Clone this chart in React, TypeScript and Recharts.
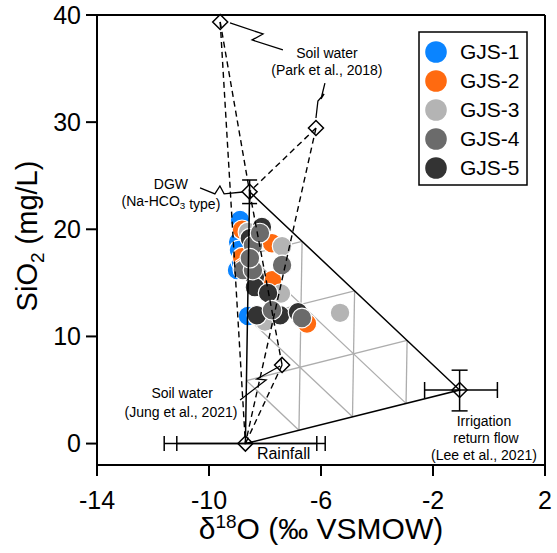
import React from 'react';
import { ComposedChart, Scatter, XAxis, YAxis, ErrorBar } from 'recharts';

const FONT = '"Liberation Sans", Arial, Helvetica, sans-serif';

// ---- axes ----
const xTicks = [-14, -10, -6, -2, 2];
const yTicks = [0, 10, 20, 30, 40];
const xDomain: [number, number] = [-14, 2];
const yDomain: [number, number] = [-2, 40];

// ---- sample series ----
const seriesNames = ['GJS-1', 'GJS-2', 'GJS-3', 'GJS-4', 'GJS-5'];
const seriesColors = ['#0A84FF', '#FF6A10', '#B4B4B4', '#6B6B6B', '#333333'];

const gjs1 = [
  { x: -8.89, y: 20.86 }, { x: -8.96, y: 18.82 }, { x: -8.93, y: 18.07 },
  { x: -9.0, y: 16.2 }, { x: -8.86, y: 16.95 }, { x: -8.61, y: 11.9 },
];
const gjs2 = [
  { x: -8.82, y: 19.95 }, { x: -7.75, y: 18.7 }, { x: -8.82, y: 17.4 },
  { x: -7.75, y: 15.25 }, { x: -6.5, y: 11.2 }, { x: -8.79, y: 16.4 },
];
const gjs3 = [
  { x: -5.32, y: 12.2 }, { x: -7.39, y: 18.42 }, { x: -8.61, y: 19.75 },
  { x: -7.43, y: 14.0 }, { x: -8.0, y: 11.4 },
];
const gjs4 = [
  { x: -8.43, y: 18.5 }, { x: -7.39, y: 16.67 }, { x: -8.79, y: 16.2 },
  { x: -8.43, y: 16.2 }, { x: -7.75, y: 12.45 }, { x: -6.68, y: 11.72 },
  { x: -8.18, y: 19.65 }, { x: -8.54, y: 17.3 },
];
const gjs5 = [
  { x: -8.11, y: 20.21 }, { x: -8.36, y: 15.55 }, { x: -8.36, y: 14.6 },
  { x: -7.89, y: 14.05 }, { x: -8.29, y: 11.97 }, { x: -7.46, y: 11.97 },
  { x: -6.82, y: 12.25 }, { x: -8.54, y: 19.17 },
];
const seriesData = [gjs1, gjs2, gjs3, gjs4, gjs5];
const drawOrder = [0, 1, 2, 4, 3];

// ---- end-members ----
const dgw = { x: -8.55, y: 23.5 };
const rainfall = { x: -8.7, y: 0 };
const irrigation = { x: -1.05, y: 5.0 };
const soilPark = [{ x: -9.6, y: 39.35 }, { x: -6.18, y: 29.45 }];
const soilJung = [{ x: -7.39, y: 7.34 }];

const dgwErrY = [1.1, 1.1];
const rainErrOuter = [2.9, 2.85];
const rainErrInner = [2.45, 2.55];
const irrErrX = [1.25, 1.35];
const irrErrY = [1.95, 1.85];

const mixFractions = [0.25, 0.5, 0.75];

// ---- callouts (zig-zag leaders, in data units) ----
const leaders = [
  [{ x: -9.25, y: 39.26 }, { x: -8.07, y: 38.23 }, { x: -8.46, y: 37.67 }, { x: -7.36, y: 36.74 }],
  [{ x: -6.18, y: 30.39 }, { x: -6.11, y: 31.97 }, { x: -5.89, y: 32.63 }, { x: -6.0, y: 32.16 }, { x: -5.86, y: 33.65 }],
  [{ x: -10.32, y: 23.86 }, { x: -9.79, y: 23.3 }, { x: -9.61, y: 24.04 }, { x: -9.46, y: 23.3 }, { x: -8.79, y: 23.48 }],
  [{ x: -8.89, y: 4.07 }, { x: -7.96, y: 5.94 }, { x: -8.29, y: 6.03 }, { x: -7.46, y: 7.24 }],
];

const annotations = [
  { x: -5.79, y: 36.46, text: 'Soil water' },
  { x: -5.79, y: 34.87, text: '(Park et al., 2018)' },
  { x: -11.36, y: 24.22, text: 'DGW' },
  { x: -11.36, y: 22.64, text: '(Na-HCO_3 type)' },
  { x: -10.96, y: 4.72, text: 'Soil water' },
  { x: -11.0, y: 2.95, text: '(Jung et al., 2021)' },
  { x: -0.18, y: 2.11, text: 'Irrigation' },
  { x: -0.11, y: 0.52, text: 'return flow' },
  { x: -0.18, y: -1.07, text: '(Lee et al., 2021)' },
  { x: -8.29, y: -0.88, text: 'Rainfall', big: true },
];

// ---- helpers ----
const lerp = (a: any, b: any, t: number) => ({ x: a.x + (b.x - a.x) * t, y: a.y + (b.y - a.y) * t });

const gridLines: any[] = [];
mixFractions.forEach((f) => {
  gridLines.push([lerp(rainfall, irrigation, f), lerp(dgw, irrigation, f)]);
  gridLines.push([lerp(rainfall, dgw, f), lerp(irrigation, dgw, f)]);
  gridLines.push([lerp(dgw, rainfall, f), lerp(irrigation, rainfall, f)]);
});

const dashedLines: any[] = [];
[...soilPark, ...soilJung].forEach((s) => {
  dashedLines.push([s, dgw]);
  dashedLines.push([s, rainfall]);
});

const emptyShape = () => <g />;

const diamondShape = (p: any) => {
  const s = 7.5;
  const { cx, cy } = p;
  return (
    <path
      d={`M${cx},${cy - s}L${cx + s},${cy}L${cx},${cy + s}L${cx - s},${cy}Z`}
      fill="none"
      stroke="#000"
      strokeWidth={1.5}
    />
  );
};

const circleShape = (color: string) => (p: any) => (
  <circle cx={p.cx} cy={p.cy} r={9.8} fill={color} stroke="#fff" strokeWidth={1.2} />
);

const rich = (text: string, size: number) => {
  const parts = text.split(/(_\d)/);
  const out: any[] = [];
  parts.forEach((part, i) => {
    if (part.startsWith('_')) {
      out.push(
        <tspan key={i} dy={size * 0.25} fontSize={size * 0.7}>{part.slice(1)}</tspan>
      );
      out.push(<tspan key={i + 'r'} dy={-size * 0.25}>{''}</tspan>);
    } else if (part) {
      out.push(<tspan key={i}>{part}</tspan>);
    }
  });
  return out;
};

const textShape = (p: any) => {
  const a = p.payload;
  const size = a.big ? 16 : 14;
  return (
    <text
      x={p.cx}
      y={p.cy}
      dy="0.35em"
      textAnchor={a.big ? 'start' : 'middle'}
      fontSize={size}
      fontFamily={FONT}
      fill="#000"
    >
      {rich(a.text, size)}
    </text>
  );
};

const lineScatter = (key: string, pts: any[], stroke: string, width: number, dash?: string) => (
  <Scatter
    key={key}
    data={pts}
    line={{ stroke, strokeWidth: width, strokeDasharray: dash }}
    lineType="joint"
    shape={emptyShape}
    isAnimationActive={false}
    legendType="none"
  />
);

export default function App() {
  const W = 557;
  const H = 553;
  return (
    <div style={{ position: 'absolute', left: 0, top: 0, width: W, height: H, overflow: 'hidden', fontFamily: FONT }}>
      <ComposedChart width={W} height={H} margin={{ top: 15, right: 12, bottom: 0, left: 0 }}>
        <XAxis
          type="number"
          dataKey="x"
          domain={xDomain}
          ticks={xTicks}
          interval={0}
          height={88}
          tickSize={11}
          tickMargin={15}
          axisLine={{ stroke: '#000', strokeWidth: 2 }}
          tickLine={{ stroke: '#000', strokeWidth: 2 }}
          tick={{ fill: '#000', fontSize: 25, fontFamily: FONT }}
        />
        <YAxis
          type="number"
          dataKey="y"
          domain={yDomain}
          ticks={yTicks}
          interval={0}
          width={97}
          tickSize={11}
          tickMargin={5}
          axisLine={{ stroke: '#000', strokeWidth: 2 }}
          tickLine={{ stroke: '#000', strokeWidth: 2 }}
          tick={{ fill: '#000', fontSize: 25, fontFamily: FONT }}
        />

        {lineScatter('top', [{ x: xDomain[0], y: yDomain[1] }, { x: xDomain[1], y: yDomain[1] }], '#000', 2)}
        {lineScatter('right', [{ x: xDomain[1], y: yDomain[0] }, { x: xDomain[1], y: yDomain[1] }], '#000', 2)}

        {gridLines.map((g, i) => lineScatter('grid' + i, g, '#ADADAD', 1.3))}

        {drawOrder.map((si) => (
          <Scatter
            key={seriesNames[si]}
            name={seriesNames[si]}
            data={seriesData[si]}
            fill={seriesColors[si]}
            shape={circleShape(seriesColors[si])}
            isAnimationActive={false}
          />
        ))}

        {lineScatter('tri', [dgw, rainfall, irrigation, dgw], '#000', 1.5)}
        {dashedLines.map((d, i) => lineScatter('dash' + i, d, '#000', 1.4, '6 4'))}
        {leaders.map((l, i) => lineScatter('lead' + i, l, '#000', 1.3))}

        <Scatter data={[...soilPark, ...soilJung]} shape={diamondShape} isAnimationActive={false} legendType="none" />
        <Scatter data={[{ ...dgw, ey: dgwErrY }]} shape={diamondShape} isAnimationActive={false} legendType="none">
          <ErrorBar dataKey="ey" direction="y" width={7.5} stroke="#000" strokeWidth={1.5} />
        </Scatter>
        <Scatter data={[{ ...rainfall, eo: rainErrOuter, ei: rainErrInner }]} shape={diamondShape} isAnimationActive={false} legendType="none">
          <ErrorBar dataKey="eo" direction="x" width={7.5} stroke="#000" strokeWidth={1.5} />
          <ErrorBar dataKey="ei" direction="x" width={7.5} stroke="#000" strokeWidth={1.5} />
        </Scatter>
        <Scatter data={[{ ...irrigation, ex: irrErrX, ey: irrErrY }]} shape={diamondShape} isAnimationActive={false} legendType="none">
          <ErrorBar dataKey="ex" direction="x" width={8} stroke="#000" strokeWidth={1.5} />
          <ErrorBar dataKey="ey" direction="y" width={8} stroke="#000" strokeWidth={1.5} />
        </Scatter>

        <Scatter data={annotations} shape={textShape} isAnimationActive={false} legendType="none" />
      </ComposedChart>

      <svg
        width={W}
        height={H}
        style={{ position: 'absolute', left: 0, top: 0, pointerEvents: 'none' }}
      >
        <text x={321} y={539} textAnchor="middle" fontSize={30} fontFamily={FONT} fill="#000">
          <tspan>δ</tspan>
          <tspan dy={-11} fontSize={19}>18</tspan>
          <tspan dy={11}>O (‰ VSMOW)</tspan>
        </text>
        <text
          x={27}
          y={236}
          dy="0.35em"
          textAnchor="middle"
          fontSize={29}
          fontFamily={FONT}
          fill="#000"
          transform="rotate(-90 27 236)"
        >
          <tspan>SiO</tspan>
          <tspan dy={7} fontSize={19}>2</tspan>
          <tspan dy={-7}> (mg/L)</tspan>
        </text>

        <rect x={419} y={32} width={108} height={153} fill="#fff" stroke="#000" strokeWidth={1.5} />
        {seriesNames.map((n, i) => (
          <g key={n}>
            <circle cx={436} cy={52 + i * 29} r={10.8} fill={seriesColors[i]} />
            <text x={460} y={52 + i * 29} dy="0.35em" fontSize={21} fontFamily={FONT} fill="#000">
              {n}
            </text>
          </g>
        ))}
      </svg>
    </div>
  );
}
